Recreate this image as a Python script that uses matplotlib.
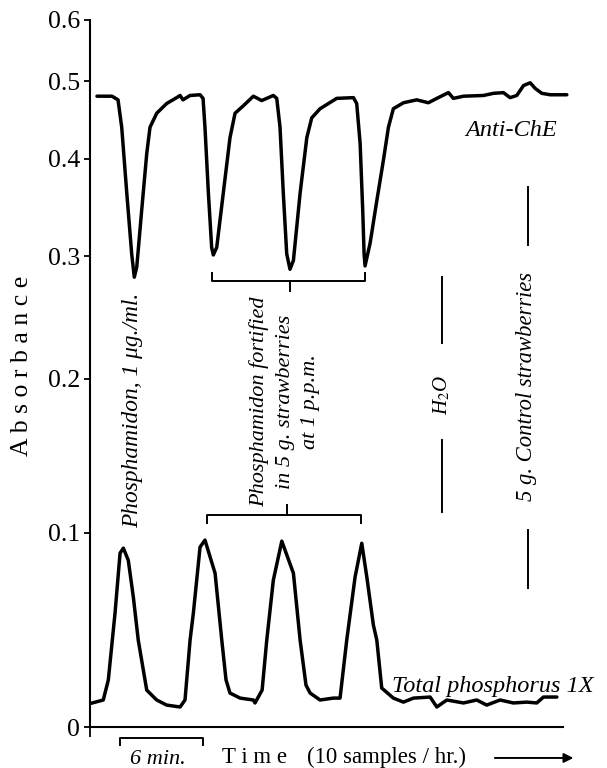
import numpy as np
import matplotlib
matplotlib.use('Agg')
import matplotlib.pyplot as plt
from matplotlib.ticker import NullLocator

plt.rcParams['font.family'] = ['Liberation Serif', 'DejaVu Serif']
plt.rcParams['mathtext.fontset'] = 'stix'

# time in minutes from the left axis, absorbance
anti_che_t = [0.51, 1.61, 2.05, 2.32, 2.69, 3.05, 3.24, 3.42, 3.78, 4.15,
              4.39, 4.88, 5.61, 6.34, 6.59, 6.80, 7.32, 8.05, 8.27, 8.41,
              8.66, 8.90, 9.02, 9.27, 9.75, 10.24, 10.61, 11.22, 11.95, 12.56,
              13.41, 13.66, 13.90, 14.14, 14.39, 14.63, 14.88, 15.37, 15.86, 16.22,
              16.83, 18.05, 19.27, 19.51, 19.76, 19.95, 20.05, 20.12, 20.49, 20.98,
              21.46, 21.83, 22.19, 22.93, 23.90, 24.75, 25.37, 26.22, 26.58, 27.32,
              28.78, 29.51, 30.24, 30.73, 31.22, 31.71, 32.20, 32.56, 33.05, 33.66, 34.88]
anti_che_a = [0.479, 0.479, 0.474, 0.438, 0.362, 0.302, 0.281, 0.290, 0.344, 0.406,
              0.438, 0.456, 0.469, 0.477, 0.480, 0.474, 0.480, 0.481, 0.476, 0.438,
              0.362, 0.308, 0.301, 0.308, 0.362, 0.425, 0.456, 0.466, 0.479, 0.473,
              0.480, 0.476, 0.438, 0.362, 0.302, 0.288, 0.296, 0.362, 0.425, 0.450,
              0.462, 0.476, 0.477, 0.469, 0.418, 0.344, 0.302, 0.291, 0.312, 0.354,
              0.398, 0.438, 0.462, 0.470, 0.474, 0.470, 0.476, 0.484, 0.476, 0.479,
              0.480, 0.483, 0.484, 0.477, 0.480, 0.494, 0.498, 0.490, 0.483, 0.481, 0.481]

phos_t = [0.05, 0.97, 1.34, 1.83, 2.20, 2.44, 2.80, 3.17, 3.53, 4.15,
          4.88, 5.61, 6.59, 6.95, 7.32, 7.56, 8.05, 8.41, 9.15, 9.64,
          9.95, 10.24, 10.98, 11.95, 12.07, 12.59, 12.93, 13.41, 14.03, 14.88,
          15.37, 15.80, 16.10, 16.83, 17.80, 18.29, 18.78, 19.39, 19.88, 20.25,
          20.73, 20.98, 21.34, 22.19, 22.93, 23.66, 24.88, 25.37, 26.10, 27.32,
          28.29, 29.02, 30.00, 30.97, 31.95, 32.68, 33.17, 34.15]
phos_a = [0.0110, 0.0126, 0.0222, 0.0558, 0.0884, 0.0912, 0.0844, 0.0643, 0.0419, 0.0173,
          0.0126, 0.0102, 0.0093, 0.0126, 0.0419, 0.0558, 0.0918, 0.0958, 0.0772, 0.0419,
          0.0222, 0.0159, 0.0135, 0.0126, 0.0112, 0.0173, 0.0419, 0.0734, 0.0952, 0.0772,
          0.0419, 0.0197, 0.0159, 0.0126, 0.0135, 0.0135, 0.0419, 0.0751, 0.0940, 0.0751,
          0.0496, 0.0419, 0.0183, 0.0135, 0.0116, 0.0135, 0.0140, 0.0093, 0.0126, 0.0112,
          0.0126, 0.0102, 0.0126, 0.0112, 0.0116, 0.0112, 0.0140, 0.0140]

y_ticks = [0, 0.1, 0.2, 0.3, 0.4, 0.5, 0.6]
y_tick_labels = ['0', '0.1', '0.2', '0.3', '0.4', '0.5', '0.6']


# chart paper is linear in transmittance, so absorbance runs compressed upward
def to_trans(a):
    return 1 - np.power(10.0, -np.asarray(a, dtype=float))


def from_trans(t):
    t = np.clip(np.asarray(t, dtype=float), None, 0.999999)
    return -np.log10(1 - t)


fig = plt.figure(figsize=(6.07, 7.68), dpi=100)
ax = fig.add_axes([90 / 607, 41 / 768, 473 / 607, 707 / 768])
ax.set_yscale('function', functions=(to_trans, from_trans))

ax.plot(anti_che_t, anti_che_a, color='black', lw=2.5, clip_on=False,
        solid_joinstyle='round', solid_capstyle='round')
ax.plot(phos_t, phos_a, color='black', lw=2.5, clip_on=False,
        solid_joinstyle='round', solid_capstyle='round')

ax.set_xlim(0, 34.6)
ax.set_ylim(0, 0.6)
ax.set_yticks(y_ticks)
ax.set_yticklabels(y_tick_labels)
ax.yaxis.set_minor_locator(NullLocator())
ax.set_xticks([0])
ax.set_xticklabels([''])
ax.tick_params(axis='y', direction='out', length=4, width=1.3, pad=3, labelsize=18.5)
ax.tick_params(axis='x', direction='out', length=7, width=1.3)
for side in ['top', 'right']:
    ax.spines[side].set_visible(False)
for side in ['left', 'bottom']:
    ax.spines[side].set_linewidth(1.5)

ita = dict(transform=ax.transAxes, style='italic', color='black', clip_on=False)
ln = dict(transform=ax.transAxes, color='black', lw=1.4, clip_on=False)

ax.text(0.890, 0.843, 'Anti-ChE', ha='center', va='center', fontsize=17.5, **ita)
ax.text(0.638, 0.057, 'Total phosphorus 1X', ha='left', va='center', fontsize=17.5, **ita)

ax.text(0.091, 0.448, 'Phosphamidon, 1 \u03bcg./ml.', rotation=90,
        ha='center', va='center', fontsize=16.8, **ita)
ax.text(0.412, 0.460, 'Phosphamidon fortified\nin 5 g. strawberries\nat 1 p.p.m.',
        rotation=90, ha='center', va='center', multialignment='center',
        fontsize=16, linespacing=1.45, **ita)
ax.text(0.744, 0.470, 'H$_2$O', rotation=90, ha='center', va='center', fontsize=15, **ita)
ax.text(0.923, 0.482, '5 g. Control strawberries', rotation=90,
        ha='center', va='center', fontsize=16.3, **ita)

# bracket over the three fortified dips
ax.plot([0.2573, 0.2573, 0.5814, 0.5814], [0.6417, 0.6308, 0.6308, 0.6417], **ln)
ax.plot([0.4218, 0.4218], [0.6308, 0.6167], **ln)
# bracket under the three fortified peaks
ax.plot([0.2467, 0.2467, 0.5723, 0.5723], [0.2885, 0.2999, 0.2999, 0.2885], **ln)
ax.plot([0.4159, 0.4159], [0.2999, 0.3140], **ln)
# markers around the water and control labels
ax.plot([0.7436, 0.7436], [0.6369, 0.5427], **ln)
ax.plot([0.7436, 0.7436], [0.4059, 0.3045], **ln)
ax.plot([0.9266, 0.9266], [0.7642, 0.6818], **ln)
ax.plot([0.9266, 0.9266], [0.2786, 0.1962], **ln)

# 6 minute scale bar under the axis
ax.plot([0.0634, 0.0634, 0.2389, 0.2389], [-0.0255, -0.0156, -0.0156, -0.0255], **ln)
ax.text(0.144, -0.0453, '6 min.', ha='center', va='center', fontsize=16, **ita)
ax.text(0.279, -0.0509, 'T i m e', ha='left', va='baseline',
        fontsize=16.5, transform=ax.transAxes, clip_on=False)
ax.text(0.4588, -0.0509, '(10 samples / hr.)', ha='left', va='baseline',
        fontsize=16.5, transform=ax.transAxes, clip_on=False)
ax.annotate('', xy=(1.022, -0.0438), xytext=(0.856, -0.0438), xycoords='axes fraction',
            arrowprops=dict(arrowstyle='-|>', color='black', lw=1.4,
                            mutation_scale=14, shrinkA=0, shrinkB=0))

fig.text(22 / 607, 1 - 366 / 768, 'A b s o r b a n c e', rotation=90,
         ha='center', va='center', fontsize=18.5)

fig.savefig('out.png', dpi=100)
